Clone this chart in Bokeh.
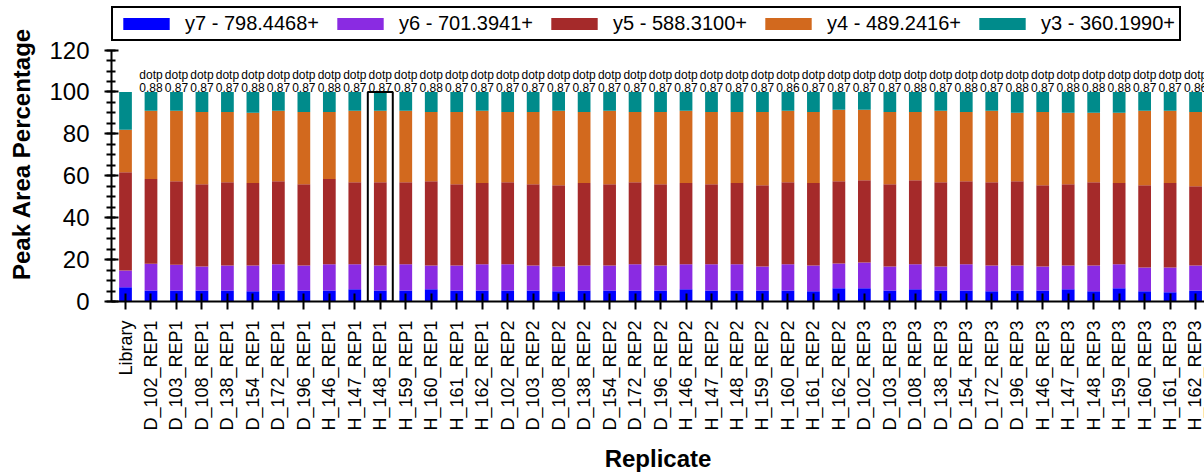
import math
from bokeh.plotting import figure
from bokeh.models import (Range1d, FixedTicker, Legend, LegendItem, ColumnDataSource)
from bokeh.core.properties import value
from bokeh.embed import file_html
from bokeh.resources import INLINE

replicates = ["Library",
              "D_102_REP1", "D_103_REP1", "D_108_REP1", "D_138_REP1", "D_154_REP1", "D_172_REP1", "D_196_REP1",
              "H_146_REP1", "H_147_REP1", "H_148_REP1", "H_159_REP1", "H_160_REP1", "H_161_REP1", "H_162_REP1",
              "D_102_REP2", "D_103_REP2", "D_108_REP2", "D_138_REP2", "D_154_REP2", "D_172_REP2", "D_196_REP2",
              "H_146_REP2", "H_147_REP2", "H_148_REP2", "H_159_REP2", "H_160_REP2", "H_161_REP2", "H_162_REP2",
              "D_102_REP3", "D_103_REP3", "D_108_REP3", "D_138_REP3", "D_154_REP3", "D_172_REP3", "D_196_REP3",
              "H_146_REP3", "H_147_REP3", "H_148_REP3", "H_159_REP3", "H_160_REP3", "H_161_REP3", "H_162_REP3"]

ion_names = ["y7 - 798.4468+", "y6 - 701.3941+", "y5 - 588.3100+", "y4 - 489.2416+", "y3 - 360.1990+"]
ion_colors = ["#0000FF", "#8A2BE2", "#A52A2A", "#D2691E", "#008B8B"]

y7 = [6.8, 5.3, 5.3, 5.3, 5.3, 4.9, 5.3, 5.3, 5.3, 5.8, 5.3, 5.3, 5.8, 5.3, 5.3,
      5.3, 5.3, 4.9, 5.3, 5.3, 5.3, 5.3, 5.8, 5.3, 5.3, 5.3, 5.3, 4.9, 6.3,
      6.3, 5.3, 5.8, 5.3, 5.3, 4.9, 5.3, 5.3, 5.8, 4.9, 6.3, 4.9, 4.4, 5.3]
y6 = [8.0, 12.7, 12.2, 11.4, 11.9, 12.3, 12.5, 11.9, 12.5, 12.0, 11.9, 12.5, 11.4, 11.9, 12.5,
      12.5, 11.9, 11.8, 11.9, 11.9, 12.5, 11.9, 12.0, 12.5, 12.5, 11.4, 12.5, 12.3, 11.8,
      12.3, 11.4, 12.0, 11.4, 12.5, 12.3, 11.9, 11.4, 11.4, 12.3, 11.5, 11.3, 11.8, 11.9]
y5 = [46.9, 40.5, 39.9, 39.3, 39.7, 39.3, 39.6, 38.8, 40.7, 39.1, 39.7, 39.1, 40.2, 38.8, 38.7,
      39.1, 38.8, 38.8, 39.3, 38.8, 39.1, 38.8, 38.7, 38.2, 38.7, 38.8, 39.1, 39.3, 39.3,
      39.3, 39.3, 40.1, 40.2, 39.6, 39.7, 40.2, 38.8, 38.8, 39.7, 38.7, 39.3, 40.3, 37.8]
y4 = [20.3, 32.5, 33.6, 34.5, 33.6, 33.6, 33.6, 34.5, 32.0, 34.1, 34.1, 34.1, 33.1, 34.5, 34.5,
      33.6, 34.5, 35.5, 34.0, 35.0, 33.6, 34.5, 34.5, 34.5, 34.0, 35.0, 34.1, 34.0, 34.1,
      33.6, 34.5, 32.6, 34.1, 33.1, 34.1, 32.7, 35.0, 34.1, 33.2, 33.6, 35.5, 34.5, 35.5]
y3 = [18.0, 9.0, 9.0, 9.5, 9.5, 9.9, 9.0, 9.5, 9.5, 9.0, 9.0, 9.0, 9.5, 9.5, 9.0,
      9.5, 9.5, 9.0, 9.5, 9.0, 9.5, 9.5, 9.0, 9.5, 9.5, 9.5, 9.0, 9.5, 8.5,
      8.5, 9.5, 9.5, 9.0, 9.5, 9.0, 9.9, 9.5, 9.9, 9.9, 9.9, 9.0, 9.0, 9.5]

dotp = ["", "0.88", "0.87", "0.87", "0.87", "0.88", "0.87", "0.87", "0.88", "0.87", "0.87",
        "0.87", "0.88", "0.87", "0.87", "0.87", "0.87", "0.87", "0.87", "0.87", "0.87",
        "0.87", "0.87", "0.87", "0.87", "0.87", "0.86", "0.87", "0.87", "0.87", "0.87",
        "0.88", "0.87", "0.88", "0.87", "0.88", "0.87", "0.88", "0.88", "0.88", "0.87",
        "0.87", "0.86"]

selected = "H_148_REP1"

FONT = "Liberation Sans"
xs = list(range(len(replicates)))

src = ColumnDataSource(dict(x=xs, y7=y7, y6=y6, y5=y5, y4=y4, y3=y3))

p = figure(width=1204, height=474, output_backend="svg", toolbar_location=None,
           x_range=Range1d(-0.55, 42.35), y_range=Range1d(0, 140.8),
           min_border_left=111, min_border_right=0, min_border_top=6, min_border_bottom=171)
p.title.visible = False
p.outline_line_color = None
p.xgrid.visible = False
p.ygrid.visible = False
p.background_fill_color = "white"
p.border_fill_color = "white"

stack_keys = ["y7", "y6", "y5", "y4", "y3"]
renderers = p.vbar_stack(stack_keys, x="x", width=0.5, color=ion_colors, source=src, line_color=None)

# dotp labels
lab_x = [x for x, d in zip(xs, dotp) if d]
lab_v = [d for d in dotp if d]
p.text(x=lab_x, y=[108.0] * len(lab_x), text=["dotp"] * len(lab_x),
       text_font=value(FONT), text_font_size="12px", text_align="center",
       text_baseline="alphabetic", text_color="black")
p.text(x=lab_x, y=[102.3] * len(lab_x), text=lab_v,
       text_font=value(FONT), text_font_size="12px", text_align="center",
       text_baseline="alphabetic", text_color="black")

# selected replicate outline
si = replicates.index(selected)
p.quad(left=[si - 0.49], right=[si + 0.49], bottom=[0], top=[100],
       fill_color=None, line_color="black", line_width=2)

# axes
xa = p.xaxis[0]
xa.ticker = FixedTicker(ticks=xs)
xa.major_label_overrides = {i: r for i, r in enumerate(replicates)}
xa.major_label_orientation = math.pi / 2
xa.major_label_text_font = FONT
xa.major_label_text_font_size = "18px"
xa.major_label_text_color = "black"
xa.major_label_standoff = 11
xa.major_tick_in = 8
xa.major_tick_out = 8
xa.major_tick_line_width = 2
xa.major_tick_line_color = "black"
xa.minor_tick_line_color = None
xa.axis_line_width = 2
xa.axis_line_color = "black"
xa.axis_label = "Replicate"
xa.axis_label_text_font = FONT
xa.axis_label_text_font_size = "24px"
xa.axis_label_text_font_style = "bold"
xa.axis_label_text_color = "black"
xa.axis_label_standoff = 11

ya = p.yaxis[0]
ya.bounds = (0, 120)
ya.ticker = FixedTicker(ticks=[0, 20, 40, 60, 80, 100, 120],
                        minor_ticks=list(range(0, 121, 5)))
ya.major_label_text_font = FONT
ya.major_label_text_font_size = "24px"
ya.major_label_text_color = "black"
ya.major_label_standoff = 15
ya.major_tick_in = 7
ya.major_tick_out = 7
ya.minor_tick_in = 4
ya.minor_tick_out = 5
ya.major_tick_line_width = 2
ya.minor_tick_line_width = 2
ya.major_tick_line_color = "black"
ya.minor_tick_line_color = "black"
ya.axis_line_width = 2
ya.axis_line_color = "black"
ya.axis_label = "Peak Area Percentage"
ya.axis_label_text_font = FONT
ya.axis_label_text_font_size = "24px"
ya.axis_label_text_font_style = "bold"
ya.axis_label_text_color = "black"
ya.axis_label_standoff = 11

legend = Legend(items=[LegendItem(label=n, renderers=[r]) for n, r in zip(ion_names, renderers)],
                orientation="horizontal", location="top_left",
                label_text_font=FONT, label_text_font_size="20px", label_text_color="black",
                glyph_width=58, glyph_height=15, label_standoff=10, spacing=12,
                padding=4, margin=0, border_line_color="black", border_line_width=2,
                border_line_alpha=1.0,
                background_fill_color="white", background_fill_alpha=1.0)
p.add_layout(legend, "center")

open("out.html", "w").write(file_html(p, INLINE))
